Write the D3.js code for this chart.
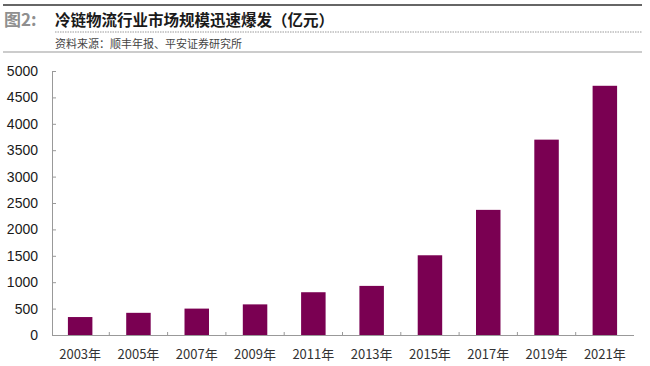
<!DOCTYPE html>
<html><head><meta charset="utf-8">
<script src="https://cdn.jsdelivr.net/npm/d3@7/dist/d3.min.js"></script>
<style>body{margin:0;background:#fff;} svg{display:block;}</style>
</head><body>
<svg id="c" width="650" height="366"></svg>
<script>
const categories = ["2003年","2005年","2007年","2009年","2011年","2013年","2015年","2017年","2019年","2021年"];
const values = [340, 420, 500, 580, 810, 930, 1510, 2370, 3700, 4720];
const yTicks = [0,500,1000,1500,2000,2500,3000,3500,4000,4500,5000];

const svg = d3.select("#c");
const font = "'Noto Sans CJK SC', 'Liberation Sans', Arial, sans-serif";
const numFont = "'Liberation Sans', Arial, sans-serif";

// header
svg.append("line").attr("x1",3).attr("x2",642).attr("y1",5).attr("y2",5).attr("stroke","#666").attr("stroke-width",1.8);
svg.append("line").attr("x1",55).attr("x2",642).attr("y1",32).attr("y2",32).attr("stroke","#999").attr("stroke-width",1).attr("stroke-dasharray","1.5,1");
svg.append("line").attr("x1",3).attr("x2",642).attr("y1",52).attr("y2",52).attr("stroke","#999").attr("stroke-width",1);
svg.append("text").attr("x",4).attr("y",26).attr("font-family",font).attr("font-size",17).attr("font-weight","bold").attr("fill","#8f8f8f").text("图2:");
svg.append("text").attr("x",55).attr("y",26).attr("font-family",font).attr("font-size",15.5).attr("font-weight","bold").attr("fill","#1a1a1a").text("冷链物流行业市场规模迅速爆发（亿元）");
svg.append("text").attr("x",55).attr("y",48).attr("font-family",font).attr("font-size",11).attr("fill","#444").text("资料来源：顺丰年报、平安证券研究所");

const x = d3.scaleBand().domain(categories).range([51,634]).paddingInner(0.58).paddingOuter(0.29);
const y = d3.scaleLinear().domain([0,5000]).range([335,71]);

svg.selectAll("rect.bar").data(values).enter().append("rect")
  .attr("class","bar")
  .attr("x",(d,i)=>x(categories[i]))
  .attr("width",x.bandwidth())
  .attr("y",d=>y(d))
  .attr("height",d=>y(0)-y(d))
  .attr("fill","#7a0052");

// y axis
const yAxis = d3.axisRight(y).tickValues(yTicks).tickSize(4).tickFormat("");
const ya = svg.append("g").attr("transform","translate(52,0)").call(yAxis);
ya.select(".domain").attr("stroke","#999");
ya.selectAll(".tick line").attr("stroke","#999");
svg.selectAll("text.yl").data(yTicks).enter().append("text").attr("class","yl")
  .attr("x",38).attr("y",d=>y(d)+5).attr("text-anchor","end")
  .attr("font-family",numFont).attr("font-size",14).attr("fill","#1a1a1a").text(d=>d);

// x axis
const step = x.step();
svg.append("line").attr("x1",52).attr("x2",634).attr("y1",335.5).attr("y2",335.5).attr("stroke","#999").attr("stroke-width",1.2);
const bounds = categories.slice(1).map(c => x(c) - x.paddingInner()*step/2);
svg.selectAll("line.xt").data(bounds).enter().append("line").attr("class","xt")
  .attr("x1",d=>d).attr("x2",d=>d).attr("y1",332).attr("y2",335.5).attr("stroke","#999");
svg.selectAll("text.xl").data(categories).enter().append("text").attr("class","xl")
  .attr("x",d=>x(d)+x.bandwidth()/2).attr("y",359).attr("text-anchor","middle")
  .attr("font-family",font).attr("font-size",13).attr("fill","#333").text(d=>d);
</script>
</body></html>
